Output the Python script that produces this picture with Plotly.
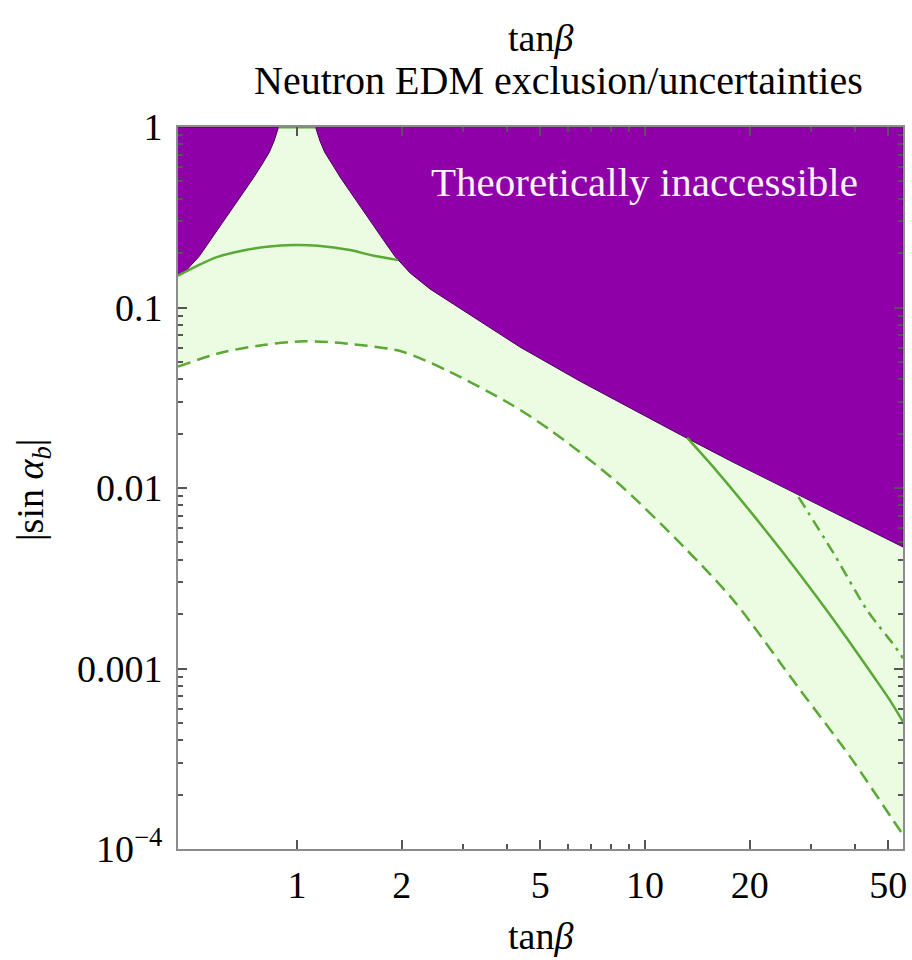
import plotly.graph_objects as go

# ---- data (tanβ, |sin α_b|) ----
bound_left_tb = [0.455, 0.473, 0.523, 0.566, 0.633, 0.704, 0.747, 0.788, 0.833, 0.859, 0.873, 0.885]
bound_left_s = [0.150, 0.1553, 0.1916, 0.238, 0.324, 0.439, 0.518, 0.608, 0.727, 0.836, 0.920, 1.0]

bound_right_tb = [1.13, 1.145, 1.164, 1.20, 1.269, 1.338, 1.42, 1.579, 1.767, 1.912,
                  2.113, 2.41, 2.75, 3.47, 4.37, 6.51, 9.04, 12.9, 17.9, 25.0, 36.3, 55.1]
bound_right_s = [1.0, 0.920, 0.836, 0.727, 0.608, 0.518, 0.439, 0.324, 0.238, 0.1916,
                 0.1553, 0.1266, 0.1073, 0.0800, 0.0604, 0.0390, 0.0278, 0.0193, 0.0139,
                 0.0101, 0.0070, 0.00471]

solid_tb_a = [0.455, 0.52, 0.588, 0.7, 0.82, 0.976, 1.15, 1.42, 1.65, 1.95]
solid_s_a = [0.150, 0.171, 0.190, 0.207, 0.217, 0.222, 0.220, 0.208, 0.194, 0.183]
solid_tb_b = [13.2, 16, 20, 25, 31.2, 38, 45.3, 50, 55.1]
solid_s_b = [0.0190, 0.01253, 0.00747, 0.00435, 0.00248, 0.00147, 0.000906, 0.000687, 0.000507]

dashed_tb = [0.455, 0.6, 0.8, 1.05, 1.4, 2.0, 2.75, 4.1, 5.33, 8.29, 12.9, 17.9,
             27.9, 38.8, 51.5, 55.1]
dashed_s = [0.047, 0.056, 0.062, 0.065, 0.063, 0.057, 0.044, 0.0292, 0.021,
            0.0108, 0.00473, 0.0024, 0.00076, 0.000325, 0.000145, 0.00012]

dotdash_tb = [27.6, 34.8, 43.4, 52.3, 55.1]
dotdash_s = [0.0089, 0.00435, 0.00211, 0.00132, 0.00114]

x_ticks = [1, 2, 5, 10, 20, 50]
x_ticktext = ["1", "2", "5", "10", "20", "50"]
x_minor = [3, 4, 6, 7, 8, 9, 30, 40]
y_ticks = [1e-4, 1e-3, 1e-2, 0.1, 1]
y_ticktext = ["10<sup>\u22124</sup>", "0.001", "0.01", "0.1", "1"]
y_minor = [m * 10.0 ** k for k in (-4, -3, -2, -1) for m in range(2, 10)]

PURPLE = "#8f00a9"
LIGHTGREEN = "#ebfce2"
GREEN = "#5aa835"
FONT = "Liberation Serif"

W, H = 912, 960
PL, PR, PT, PB = 178, 903, 127, 849   # plot area in page pixels


def px(xp):
    return (xp - PL) / (PR - PL)


def py(yp):
    return (PB - yp) / (PB - PT)


fig = go.Figure()

green_x = dashed_tb + bound_right_tb[::-1] + bound_left_tb[::-1]
green_y = dashed_s + bound_right_s[::-1] + bound_left_s[::-1]
fig.add_trace(go.Scatter(x=green_x, y=green_y, fill="toself", fillcolor=LIGHTGREEN,
                         line=dict(width=0), mode="lines", hoverinfo="skip",
                         showlegend=False))

fig.add_trace(go.Scatter(x=bound_left_tb + [bound_left_tb[0]],
                         y=bound_left_s + [1.0],
                         fill="toself", fillcolor=PURPLE,
                         line=dict(width=1, color="#4a0058"), mode="lines",
                         showlegend=False))
fig.add_trace(go.Scatter(x=bound_right_tb + [bound_right_tb[-1]],
                         y=bound_right_s + [1.0],
                         fill="toself", fillcolor=PURPLE,
                         line=dict(width=1, color="#4a0058"), mode="lines",
                         showlegend=False))

# green edge of the allowed band at the top of the gap
fig.add_trace(go.Scatter(x=[bound_left_tb[-1], bound_right_tb[0]],
                         y=[bound_left_s[-1], bound_right_s[0]], mode="lines",
                         line=dict(color=GREEN, width=3), showlegend=False))

fig.add_trace(go.Scatter(x=solid_tb_a, y=solid_s_a, mode="lines",
                         line=dict(color=GREEN, width=2.5, shape="spline", smoothing=0.8),
                         showlegend=False))
fig.add_trace(go.Scatter(x=solid_tb_b, y=solid_s_b, mode="lines",
                         line=dict(color=GREEN, width=2.5, shape="spline", smoothing=0.8),
                         showlegend=False))
fig.add_trace(go.Scatter(x=dashed_tb, y=dashed_s, mode="lines",
                         line=dict(color=GREEN, width=2.5, dash="13px,7px",
                                   shape="spline", smoothing=0.8),
                         showlegend=False))
fig.add_trace(go.Scatter(x=dotdash_tb, y=dotdash_s, mode="lines",
                         line=dict(color=GREEN, width=2.5, dash="12px,6px,3px,6px",
                                   shape="spline", smoothing=0.8),
                         showlegend=False))

axis_common = dict(showline=True, linecolor="#8c8c8c", linewidth=2,
                   mirror="allticks", ticks="inside", tickcolor="#555555",
                   ticklen=9, tickwidth=1.5, showgrid=False, zeroline=False,
                   automargin=False,
                   tickfont=dict(family=FONT, size=38, color="black"))

fig.update_xaxes(type="log", range=[-0.342, 1.741], tickvals=x_ticks,
                 ticktext=x_ticktext,
                 minor=dict(tickvals=x_minor, ticks="inside", ticklen=5,
                            tickcolor="#555555", showgrid=False),
                 ticklabelstandoff=1,
                 **axis_common)
fig.update_yaxes(type="log", range=[-4, 0], tickvals=y_ticks, ticktext=y_ticktext,
                 minor=dict(tickvals=y_minor, ticks="inside", ticklen=5,
                            tickcolor="#555555", showgrid=False),
                 ticklabelstandoff=6,
                 **axis_common)

annotations = [
    dict(x=px(540), y=py(38), text="tan<i>\u03b2</i>"),
    dict(x=px(558), y=py(80), text="Neutron EDM exclusion/uncertainties",
         font=dict(family=FONT, size=40, color="black")),
    dict(x=px(540), y=py(936), text="tan<i>\u03b2</i>"),
    dict(x=px(33), y=py(490), text="|sin <i>\u03b1</i><sub><i>b</i></sub>|",
         textangle=-90),
    dict(x=px(644), y=py(182), text="Theoretically inaccessible",
         font=dict(family=FONT, size=41, color="#fbf2ff")),
]
for a in annotations:
    a.setdefault("font", dict(family=FONT, size=38, color="black"))
    a.update(xref="paper", yref="paper", showarrow=False,
             xanchor="center", yanchor="middle")

fig.update_layout(
    width=W, height=H,
    margin=dict(l=PL, r=W - PR, t=PT, b=H - PB),
    paper_bgcolor="white", plot_bgcolor="white",
    annotations=annotations,
)

fig.write_html("out.html",
               config={"displayModeBar": False},
               post_script="document.body.style.margin='0';"
                           "document.body.style.overflow='hidden';")
